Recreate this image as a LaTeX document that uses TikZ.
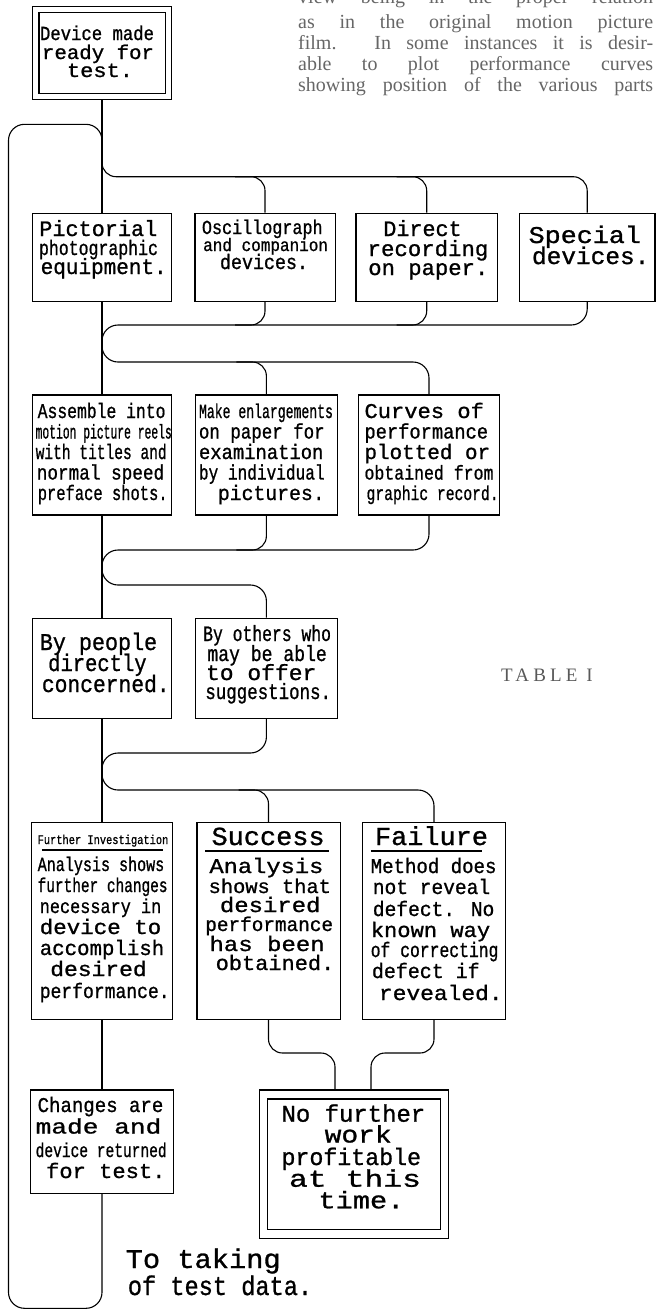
\documentclass[tikz,border=0pt]{standalone}
\usepackage{fontspec}
\usepackage{graphicx}
\newfontfamily\handfont{Liberation Mono}[FakeBold=1]
\newfontfamily\printfont{Liberation Serif}
\newfontfamily\tablefont{Liberation Serif}[LetterSpace=22]

% one hand-lettered line: name, centre x, baseline y, width, size, text
\newcommand\tln[6]{\node[hand] (#1) at (#2,#3) {\fontsize{#5}{#5}\selectfont\resizebox{#4pt}{\height}{#6}};}
% one justified line of the printed page text
\newcommand\pln[3]{\node[print] (#1) at (298,#2) {\makebox[355pt][s]{#3}};}

\begin{document}
\begin{tikzpicture}[x=1pt,y=-1pt,
  box/.style={draw, line width=1.3pt, inner sep=0pt},
  wire/.style={draw, line width=1.1pt, rounded corners=14pt},
  hand/.style={inner sep=0pt, anchor=base, font=\handfont},
  print/.style={inner sep=0pt, anchor=base west, text=black!60,
                font=\printfont\fontsize{20}{20}\selectfont}]
\useasboundingbox (0,0) rectangle (657,1310);
\clip (0,0) rectangle (657,1310);

% bus levels
\coordinate (ytop) at (0,124.3);
\coordinate (ya)   at (0,150);
\coordinate (y2)   at (0,176.7);
\coordinate (y3)   at (0,325);
\coordinate (y4)   at (0,362);
\coordinate (y5)   at (0,550);
\coordinate (y6)   at (0,585);
\coordinate (y7)   at (0,753);
\coordinate (y8)   at (0,790);
\coordinate (y9)   at (0,1053);
\coordinate (lt)   at (8.5,124.3);
\coordinate (lb)   at (8.5,1308.3);

% ---------- boxes ----------
\node[box, minimum width=139pt, minimum height=92.6pt] (b0) at (102,53) {};
\draw[line width=1.3pt] ([shift={(7,6.5)}]b0.north west) rectangle ([shift={(-7,-6.5)}]b0.south east);

\node[box, minimum width=139pt,   minimum height=88pt] (p1) at (102,257.3) {};
\node[box, minimum width=140.3pt, minimum height=88pt] (p2) at (265,257.3) {};
\node[box, minimum width=141.2pt, minimum height=88pt] (p3) at (426.7,257.3) {};
\node[box, minimum width=135.5pt, minimum height=88pt] (p4) at (587.2,257.3) {};

\node[box, minimum width=139pt,   minimum height=120pt] (q1) at (102,455) {};
\node[box, minimum width=141.6pt, minimum height=120pt] (q2) at (266.4,455) {};
\node[box, minimum width=141.6pt, minimum height=120pt] (q3) at (429,455) {};

\node[box, minimum width=139.5pt, minimum height=100pt] (r1) at (102,668.3) {};
\node[box, minimum width=141.6pt, minimum height=100pt] (r2) at (266.4,668.3) {};

\node[box, minimum width=141.6pt, minimum height=196.6pt] (s1) at (102,921) {};
\node[box, minimum width=143.3pt, minimum height=196.6pt] (s2) at (268.5,921) {};
\node[box, minimum width=143.3pt, minimum height=196.6pt] (s3) at (434,921) {};

\node[box, minimum width=142.4pt, minimum height=103.3pt] (t1) at (102,1141.7) {};
\node[box, minimum width=188.6pt, minimum height=148.3pt] (t2) at (354,1164.2) {};
\draw[line width=1.3pt] ([shift={(8.5,9.5)}]t2.north west) rectangle ([shift={(-8.5,-9.5)}]t2.south east);

% ---------- connectors ----------
\draw[wire] (b0.south) -- (p1.north);
% return loop from the last step back to the start
\draw[wire, rounded corners=16pt] (t1.south) -- (t1.south |- lb) -- (lb) -- (lt) -- (b0.south |- ytop) -- (b0.south |- y2);
% split to the recording methods
\draw[wire] (b0.south |- ya) -- (b0.south |- y2) -- (p4.north |- y2) -- (p4.north);
\draw[wire] (p2.north |- y2) ++(-30,0) -- ++(30,0) -- (p2.north);
\draw[wire] (p3.north |- y2) ++(-30,0) -- ++(30,0) -- (p3.north);
% merge and split to the presentation forms
\draw[wire] (p1.south) -- (q1.north);
\draw[wire] (p2.south) -- (p2.south |- y3) -- ++(-30,0);
\draw[wire] (p3.south) -- (p3.south |- y3) -- ++(-30,0);
\draw[wire, rounded corners=16pt] (p4.south) -- (p4.south |- y3) -- (p1.south |- y3) -- (p1.south |- y4) -- (q3.north |- y4) -- (q3.north);
\draw[wire] (q2.north |- y4) ++(-30,0) -- ++(30,0) -- (q2.north);
% merge and split to the reviewers
\draw[wire] (q1.south) -- (r1.north);
\draw[wire] (q2.south) -- (q2.south |- y5) -- ++(-30,0);
\draw[wire, rounded corners=16pt] (q3.south) -- (q3.south |- y5) -- (q1.south |- y5) -- (q1.south |- y6) -- (r2.north |- y6) -- (r2.north);
% merge and split to the outcomes
\draw[wire] (r1.south) -- (s1.north);
\draw[wire, rounded corners=16pt] (r2.south) -- (r2.south |- y7) -- (r1.south |- y7) -- (r1.south |- y8) -- (s3.north |- y8) -- (s3.north);
\draw[wire] (s2.north |- y8) ++(-30,0) -- ++(30,0) -- (s2.north);
% outcomes onward
\draw[wire] (s1.south) -- (t1.north);
\coordinate (t2l) at ([xshift=-19pt]t2.north);
\coordinate (t2r) at ([xshift=17pt]t2.north);
\draw[wire] (s2.south) -- (s2.south |- y9) -- (t2l |- y9) -- (t2l);
\draw[wire] (s3.south) -- (s3.south |- y9) -- (t2r |- y9) -- (t2r);

% ---------- lettering ----------
\tln{b0a}{97}{40}{114}{20}{Device made}
\tln{b0b}{98}{59}{112}{20}{ready for}
\tln{b0c}{100}{77}{66}{20}{test.}

\tln{p1a}{98.3}{236}{118}{22}{Pictorial}
\tln{p1b}{98.5}{255}{119}{21}{photographic}
\tln{p1c}{103.7}{274}{126}{22}{equipment.}

\tln{p2a}{262.3}{234}{120.7}{20}{Oscillograph}
\tln{p2b}{265.6}{251}{124.8}{18}{and companion}
\tln{p2c}{264}{269}{88}{21}{devices.}

\tln{p3a}{422.5}{236}{78.3}{22}{Direct}
\tln{p3b}{428}{256}{120.7}{22}{recording}
\tln{p3c}{428.3}{275}{120}{22}{on paper.}

\tln{p4a}{584.8}{243}{112.3}{24}{Special}
\tln{p4b}{590.7}{264}{117.4}{24}{devices.}

\tln{q1a}{101.6}{418}{127.8}{21}{Assemble into}
\tln{q1b}{103.7}{438.5}{136.2}{20}{motion picture reels}
\tln{q1c}{101.2}{459}{131}{21}{with titles and}
\tln{q1d}{100.5}{479.5}{127.4}{21}{normal speed}
\tln{q1e}{102.7}{500}{129.9}{21}{preface shots.}

\tln{q2a}{266}{418}{134}{20}{Make enlargements}
\tln{q2b}{261.8}{438.5}{125.7}{21}{on paper for}
\tln{q2c}{261.2}{459}{124.4}{21}{examination}
\tln{q2d}{261.8}{479.5}{125.7}{21}{by individual}
\tln{q2e}{271.3}{500}{106.8}{21}{pictures.}

\tln{q3a}{424.2}{418}{119.4}{21}{Curves of}
\tln{q3b}{426.3}{438.5}{123.6}{21}{performance}
\tln{q3c}{427.3}{459}{125.7}{21}{plotted or}
\tln{q3d}{429}{479.5}{129}{20}{obtained from}
\tln{q3e}{432.6}{500}{132}{20}{graphic record.}

\tln{r1a}{98.5}{650}{117.3}{24}{By people}
\tln{r1b}{97.4}{671}{98.4}{24}{directly}
\tln{r1c}{105.8}{692}{127.8}{24}{concerned.}

\tln{r2a}{267.1}{641}{127.8}{22}{By others who}
\tln{r2b}{267.1}{661}{119.4}{22}{may be able}
\tln{r2c}{261.2}{680}{110.3}{22}{to offer}
\tln{r2d}{268.2}{699}{125.7}{22}{suggestions.}

\tln{s1h}{103}{844}{130.7}{13}{Further Investigation}
\draw[line width=1.1pt] (41.9,850) -- (163.4,850);
\tln{s1a}{101}{871}{126.5}{20}{Analysis shows}
\tln{s1b}{102.6}{892}{129.9}{20}{further changes}
\tln{s1c}{100.5}{913}{121.5}{20}{necessary in}
\tln{s1d}{100.5}{934}{121.5}{21}{device to}
\tln{s1e}{102}{955}{124.4}{21}{accomplish}
\tln{s1f}{98.5}{976}{96.4}{21}{desired}
\tln{s1g}{104.7}{998}{129.9}{21}{performance.}

\tln{s2h}{268.1}{845}{113.1}{26}{Success}
\draw[line width=1.1pt] (205.3,851) -- (328.9,851);
\tln{s2a}{266.4}{873}{113.9}{21}{Analysis}
\tln{s2b}{269.8}{893}{122.3}{20}{shows that}
\tln{s2c}{270.2}{912}{100.5}{21}{desired}
\tln{s2d}{269.2}{931}{127.8}{20}{performance}
\tln{s2e}{267.1}{951}{115.2}{21}{has been}
\tln{s2f}{275}{970}{118.6}{21}{obtained.}

\tln{s3h}{431.5}{845}{113}{26}{Failure}
\draw[line width=1.1pt] (370.8,851) -- (481.8,851);
\tln{s3a}{433.6}{873}{125.7}{21}{Method does}
\tln{s3b}{431.5}{894}{117.3}{21}{not reveal}
\tln{s3c}{433.6}{916}{121.5}{21}{defect. No}
\tln{s3d}{430.5}{937}{119.4}{21}{known way}
\tln{s3e}{434.6}{957}{127.7}{21}{of correcting}
\tln{s3f}{425.8}{978}{107.7}{21}{defect if}
\tln{s3g}{440.8}{1000}{123.6}{21}{revealed.}

\tln{t1a}{100.5}{1112}{125.7}{21}{Changes are}
\tln{t1b}{98.5}{1133.5}{125.7}{21}{made and}
\tln{t1c}{101.2}{1157}{131}{20}{device returned}
\tln{t1d}{105.8}{1178}{119.4}{21}{for test.}

\tln{t2a}{353.4}{1121.7}{143.7}{24}{No further}
\tln{t2b}{358.2}{1142.5}{67}{24}{work}
\tln{t2c}{351.3}{1165}{139.5}{24}{profitable}
\tln{t2d}{355}{1186.7}{132}{24}{at this}
\tln{t2e}{361.4}{1208.3}{86}{24}{time.}

\tln{enda}{203.2}{1268}{155}{27}{To taking}
\tln{endb}{220}{1295}{184.3}{27}{of test data.}

% ---------- surrounding page text ----------
\pln{para0}{3}{view being in the proper relation}
\pln{para1}{28.5}{as in the original motion picture}
\pln{para2}{49.5}{film. In some instances it is desir-}
\pln{para3}{70.5}{able to plot performance curves}
\pln{para4}{91.5}{showing position of the various parts}

\node[inner sep=0pt, anchor=base, text=black!65, font=\tablefont\fontsize{19}{19}\selectfont] (tab) at (547,681) {TABLE I};
\end{tikzpicture}
\end{document}
